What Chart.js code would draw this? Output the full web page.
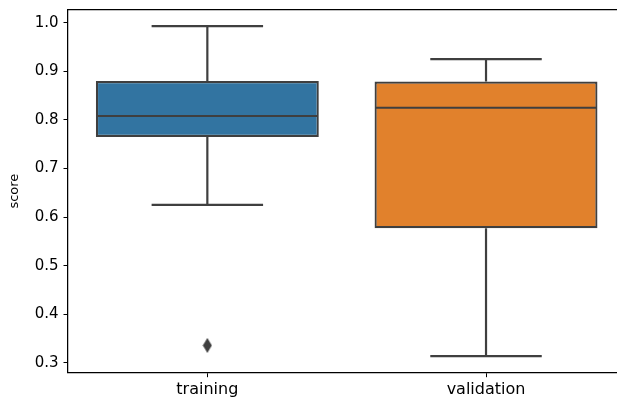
<!DOCTYPE html>
<html>
<head>
<meta charset="utf-8">
<script src="https://cdn.jsdelivr.net/npm/chart.js@4/dist/chart.umd.min.js"></script>
<style>
  html, body { margin: 0; padding: 0; overflow: hidden; background: #fff; }
  canvas { display: block; }
</style>
</head>
<body>
<canvas id="chart" width="617" height="398"></canvas>
<script>
// box stats
const categories = ["training", "validation"];
const q1 = [0.765, 0.577];
const q3 = [0.880, 0.879];
const medians = [0.808, 0.825];
const whiskerLow = [0.625, 0.314];
const whiskerHigh = [0.993, 0.925];
const outlierCategory = ["training"];
const outlierValue = [0.336];
const yTicks = [0.3, 0.4, 0.5, 0.6, 0.7, 0.8, 0.9, 1.0];

const boxColors = ["#3274a1", "#e1812c"];
const lineColor = "#3f3f3f";

// thin diamond marker like matplotlib's "d"
const diamond = document.createElement("canvas");
diamond.width = 10;
diamond.height = 15;
{
  const c = diamond.getContext("2d");
  c.fillStyle = lineColor;
  c.beginPath();
  c.moveTo(5, 0);
  c.lineTo(9.5, 7.5);
  c.lineTo(5, 15);
  c.lineTo(0.5, 7.5);
  c.closePath();
  c.fill();
}

const boxPlugin = {
  id: "boxParts",
  afterDatasetsDraw(chart) {
    const ctx = chart.ctx;
    const x = chart.scales.x;
    const y = chart.scales.y;
    const step = x.getPixelForValue(1) - x.getPixelForValue(0);
    const boxHalf = step * 0.4;
    const capHalf = step * 0.2;
    ctx.save();
    ctx.strokeStyle = lineColor;
    ctx.lineWidth = 2.2;
    const line = (x1, y1, x2, y2) => {
      ctx.beginPath();
      ctx.moveTo(x1, y1);
      ctx.lineTo(x2, y2);
      ctx.stroke();
    };
    categories.forEach((cat, i) => {
      const cx = x.getPixelForValue(i);
      // whiskers
      line(cx, y.getPixelForValue(q3[i]), cx, y.getPixelForValue(whiskerHigh[i]));
      line(cx, y.getPixelForValue(q1[i]), cx, y.getPixelForValue(whiskerLow[i]));
      // caps
      line(cx - capHalf, y.getPixelForValue(whiskerHigh[i]), cx + capHalf, y.getPixelForValue(whiskerHigh[i]));
      line(cx - capHalf, y.getPixelForValue(whiskerLow[i]), cx + capHalf, y.getPixelForValue(whiskerLow[i]));
      // median
      line(cx - boxHalf + 1, y.getPixelForValue(medians[i]), cx + boxHalf - 1, y.getPixelForValue(medians[i]));
    });
    // top spine (right spine falls outside the picture)
    const a = chart.chartArea;
    ctx.strokeStyle = "#000";
    ctx.lineWidth = 1.25;
    line(a.left, a.top, a.right, a.top);
    ctx.restore();
  }
};

new Chart(document.getElementById("chart"), {
  type: "bar",
  data: {
    datasets: [
      {
        label: "box",
        data: categories.map((c, i) => ({ x: i, y: [q1[i], q3[i]] })),
        backgroundColor: boxColors,
        borderColor: lineColor,
        borderWidth: 2.2,
        borderSkipped: false,
        barPercentage: 0.8,
        categoryPercentage: 1.0,
        order: 2
      },
      {
        type: "line",
        label: "outliers",
        data: outlierCategory.map((c, i) => ({ x: categories.indexOf(c), y: outlierValue[i] })),
        showLine: false,
        pointStyle: diamond,
        pointRadius: 6,
        order: 1
      }
    ]
  },
  options: {
    responsive: false,
    animation: false,
    layout: { autoPadding: false, padding: { top: 9.5, left: 0, right: 0, bottom: 0 } },
    plugins: {
      legend: { display: false },
      tooltip: { enabled: false }
    },
    scales: {
      x: {
        type: "linear",
        offset: false,
        // the axes run from -0.5 to 1.5; the picture cuts them a bit before the right spine
        min: -0.5,
        max: 1.47,
        afterBuildTicks: (s) => { s.ticks = categories.map((c, i) => ({ value: i })); },
        grid: { drawOnChartArea: false, drawTicks: true, tickLength: 4.5, color: "#000", offset: false },
        border: { display: true, color: "#000", width: 1.25 },
        ticks: {
          color: "#000",
          padding: 3,
          maxRotation: 0,
          font: { family: "DejaVu Sans", size: 16 },
          callback: (v) => categories[v]
        },
        afterFit: (s) => { s.height = 25.3; s.paddingLeft = 0; s.paddingRight = 0; }
      },
      y: {
        min: 0.2798,
        max: 1.0272,
        afterBuildTicks: (s) => { s.ticks = yTicks.map(v => ({ value: v })); },
        grid: { drawOnChartArea: false, drawTicks: true, tickLength: 4.5, color: "#000" },
        border: { display: true, color: "#000", width: 1.25 },
        ticks: {
          color: "#000",
          padding: 5,
          font: { family: "DejaVu Sans", size: 15 },
          callback: (v) => Number(v).toFixed(1)
        },
        title: {
          display: true,
          text: "score",
          color: "#000",
          padding: { top: 7, bottom: 0 },
          font: { family: "DejaVu Sans", size: 13 }
        },
        afterFit: (s) => { s.width = 68; s.paddingTop = 0; s.paddingBottom = 0; }
      }
    }
  },
  plugins: [boxPlugin]
});
</script>
</body>
</html>
